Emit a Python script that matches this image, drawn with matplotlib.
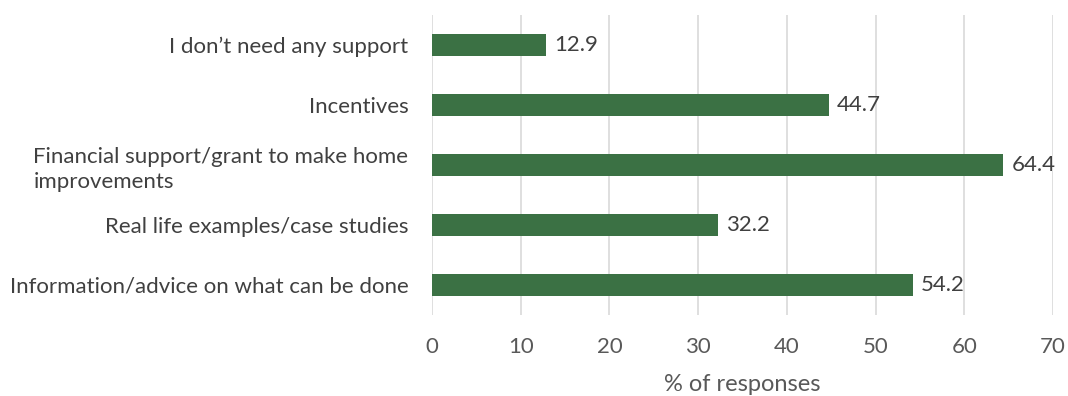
import matplotlib.pyplot as plt

categories = [
    "Information/advice on what can be done",
    "Real life examples/case studies",
    "Financial support/grant to make home\nimprovements",
    "Incentives",
    "I don\u2019t need any support",
]
values = [54.2, 32.2, 64.4, 44.7, 12.9]
xticks = [0, 10, 20, 30, 40, 50, 60, 70]

plt.rcParams['font.family'] = ['Lato', 'DejaVu Sans']

fig = plt.figure(figsize=(10.68, 3.96), dpi=100)
ax = fig.add_axes([0.4045, 0.205, 0.5815, 0.757])

pos = range(len(categories))
bars = ax.barh(pos, values, height=0.37, color='#3b7144', zorder=3)
for b, v in zip(bars, values):
    ax.text(v + 0.9, b.get_y() + b.get_height() / 2, f"{v:.1f}",
            va='center', ha='left', fontsize=16, color='#404040')

ax.set_yticks(list(pos))
ax.set_yticklabels(categories, fontsize=16, color='#404040',
                   multialignment='left', linespacing=1.3)
ax.set_xticks(xticks)
ax.set_xticklabels([str(t) for t in xticks], fontsize=16, color='#595959')
ax.set_xlim(0, 70)
ax.set_ylim(-0.5, 4.5)
ax.set_xlabel("% of responses", fontsize=17, color='#595959', labelpad=12)

ax.grid(axis='x', color='#d9d9d9', linewidth=1.2, zorder=0)
for s in ax.spines.values():
    s.set_visible(False)
ax.tick_params(axis='x', length=0, pad=16)
ax.tick_params(axis='y', length=0, pad=17)

fig.savefig("out.png", dpi=100)
